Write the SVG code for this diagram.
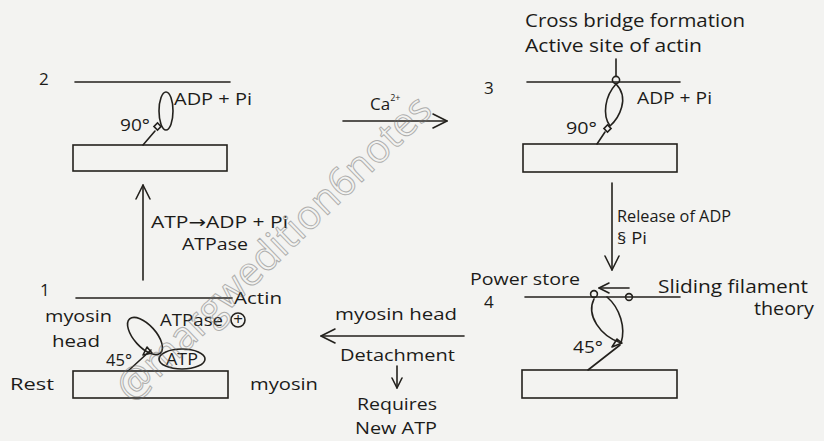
<svg xmlns="http://www.w3.org/2000/svg" width="824" height="441" viewBox="0 0 824 441">
  <style>
    .ln { stroke: #23211d; stroke-width: 1.6; fill: none; stroke-linecap: round; stroke-linejoin: round; }
    .bx { stroke: #23211d; stroke-width: 1.6; fill: none; }
    .t { font-family: "Open Sans", "DejaVu Sans", sans-serif; fill: #1c1b19; font-size: 17px; }
    .tl { font-size: 18px; }
    .ts { font-size: 16px; }
    .wm { font-family: "Open Sans", "DejaVu Sans", sans-serif; font-size: 40px; fill: none; stroke: #6b6b6b; stroke-width: 1; opacity: 0.5; }
  </style>
  <defs>
    <marker id="chev" viewBox="0 0 12 12" refX="11" refY="6" markerWidth="12" markerHeight="12" markerUnits="userSpaceOnUse" orient="auto">
      <path d="M1,1 L11,6 L1,11" fill="none" stroke="#23211d" stroke-width="1.6" stroke-linecap="round" stroke-linejoin="round"/>
    </marker>
    <marker id="chevL" viewBox="0 0 16 16" refX="15" refY="8" markerWidth="16" markerHeight="16" markerUnits="userSpaceOnUse" orient="auto">
      <path d="M1,1 L15,8 L1,15" fill="none" stroke="#23211d" stroke-width="1.6" stroke-linecap="round" stroke-linejoin="round"/>
    </marker>
  </defs>

  <rect width="824" height="441" fill="#f3f3f1"/>

  <!-- Stage 2: cocked head, 90 degrees, ADP + Pi bound -->
  <g id="stage2">
    <text class="t" x="39" y="85">2</text>
    <line class="ln" x1="75" y1="82" x2="230" y2="82"/>
    <ellipse class="ln" cx="166" cy="111" rx="7" ry="19"/>
    <rect class="bx" x="155" y="124" width="5" height="5" transform="rotate(45 157.5 126.5)"/>
    <line class="ln" x1="143" y1="145" x2="155" y2="131"/>
    <rect class="bx" x="73" y="145" width="154" height="26"/>
    <text class="t" x="120" y="131" textLength="30" lengthAdjust="spacingAndGlyphs">90°</text>
    <text class="t" x="174" y="105" textLength="78" lengthAdjust="spacingAndGlyphs">ADP + Pi</text>
  </g>

  <!-- Stage 3: cross bridge attached to active site of actin -->
  <g id="stage3">
    <text class="t" x="484" y="94">3</text>
    <text class="t tl" x="525" y="27" textLength="220" lengthAdjust="spacingAndGlyphs">Cross bridge formation</text>
    <text class="t tl" x="525" y="52" textLength="177" lengthAdjust="spacingAndGlyphs">Active site of actin</text>
    <line class="ln" x1="616" y1="59" x2="616" y2="76"/>
    <line class="ln" x1="527" y1="82" x2="680" y2="82"/>
    <circle class="bx" cx="616" cy="80" r="3.6" fill="#f3f3f1"/>
    <path class="ln" d="M616,84 C605,96 602,115 610,126 C619,118 630,98 616,84 Z"/>
    <rect class="bx" x="605" y="126" width="5" height="5" transform="rotate(45 607.5 128.5)"/>
    <line class="ln" x1="597" y1="144" x2="605" y2="132"/>
    <rect class="bx" x="523" y="144" width="154" height="28"/>
    <text class="t" x="637" y="104" textLength="75" lengthAdjust="spacingAndGlyphs">ADP + Pi</text>
    <text class="t" x="566" y="134" textLength="31" lengthAdjust="spacingAndGlyphs">90°</text>
  </g>

  <!-- Stage 4: power stroke, head tilts to 45 degrees -->
  <g id="stage4">
    <text class="t" x="470" y="285" textLength="110" lengthAdjust="spacingAndGlyphs">Power store</text>
    <text class="t" x="484" y="308" font-size="15">4</text>
    <line class="ln" x1="525" y1="297" x2="680" y2="297"/>
    <path class="ln" d="M594,299 C586,315 600,336 621,343 C626,328 620,308 607,297"/>
    <circle class="bx" cx="594" cy="294" r="3.4" fill="#f3f3f1"/>
    <circle class="bx" cx="629" cy="297" r="3.4" fill="#f3f3f1"/>
    <path class="ln" d="M612,347 L617,339 L622,343 Z"/>
    <line class="ln" x1="620" y1="345" x2="588" y2="370"/>
    <rect class="bx" x="522" y="370" width="155" height="28"/>
    <text class="t" x="573" y="353" textLength="30" lengthAdjust="spacingAndGlyphs">45°</text>
    <text class="t tl" x="658" y="293" textLength="150" lengthAdjust="spacingAndGlyphs">Sliding filament</text>
    <text class="t tl" x="754" y="315" textLength="60" lengthAdjust="spacingAndGlyphs">theory</text>
  </g>

  <!-- Stage 1: rest, 45 degrees, ATP bound -->
  <g id="stage1">
    <text class="t" x="40" y="296">1</text>
    <line class="ln" x1="76" y1="298" x2="232" y2="298"/>
    <text class="t" x="234" y="304" textLength="48" lengthAdjust="spacingAndGlyphs">Actin</text>
    <text class="t" x="45" y="322" textLength="67" lengthAdjust="spacingAndGlyphs">myosin</text>
    <text class="t" x="52" y="347" textLength="48" lengthAdjust="spacingAndGlyphs">head</text>
    <text class="t" x="160" y="326" textLength="63" lengthAdjust="spacingAndGlyphs">ATPase</text>
    <circle class="bx" cx="238" cy="320" r="7"/>
    <text class="t" x="238" y="325" text-anchor="middle" font-size="14">+</text>
    <ellipse class="ln" cx="145" cy="336" rx="23" ry="11" transform="rotate(48 145 336)"/>
    <path class="ln" d="M143,355 L147,347 L152,353 Z"/>
    <line class="ln" x1="128" y1="371" x2="151" y2="350"/>
    <ellipse class="ln" cx="182" cy="359" rx="23" ry="10"/>
    <text class="t" x="166" y="365" textLength="32" lengthAdjust="spacingAndGlyphs">ATP</text>
    <text class="t" x="106" y="366" textLength="26" lengthAdjust="spacingAndGlyphs">45°</text>
    <rect class="bx" x="73" y="371" width="155" height="27"/>
    <text class="t" x="10" y="390" textLength="44" lengthAdjust="spacingAndGlyphs">Rest</text>
    <text class="t" x="250" y="390" textLength="68" lengthAdjust="spacingAndGlyphs">myosin</text>
  </g>

  <!-- Transitions between stages -->
  <g id="connectors">
    <line class="ln" x1="143" y1="280" x2="143" y2="185" marker-end="url(#chevL)"/>
    <line class="ln" x1="343" y1="121" x2="447" y2="121" marker-end="url(#chevL)"/>
    <line class="ln" x1="612" y1="183" x2="612" y2="270" marker-end="url(#chevL)"/>
    <line class="ln" x1="629" y1="288" x2="599" y2="288" marker-end="url(#chev)"/>
    <line class="ln" x1="464" y1="336" x2="321" y2="336" marker-end="url(#chevL)"/>
    <line class="ln" x1="397" y1="366" x2="397" y2="388" marker-end="url(#chev)"/>
  </g>

  <!-- Transition labels -->
  <g id="labels">
    <text class="t" x="370" y="110" font-size="18">Ca<tspan font-size="9" dy="-9">2+</tspan></text>
    <text class="t" x="151" y="228" textLength="137" lengthAdjust="spacingAndGlyphs">ATP→ADP + Pi</text>
    <text class="t" x="182" y="250" textLength="66" lengthAdjust="spacingAndGlyphs">ATPase</text>
    <text class="t" x="617" y="222" textLength="114" lengthAdjust="spacingAndGlyphs">Release of ADP</text>
    <text class="t" x="617" y="244" textLength="30" lengthAdjust="spacingAndGlyphs">§ Pi</text>
    <text class="t" x="335" y="320" textLength="122" lengthAdjust="spacingAndGlyphs">myosin head</text>
    <text class="t" x="340" y="361" textLength="115" lengthAdjust="spacingAndGlyphs">Detachment</text>
    <text class="t ts" x="357" y="410" textLength="80" lengthAdjust="spacingAndGlyphs">Requires</text>
    <text class="t ts" x="355" y="434" textLength="82" lengthAdjust="spacingAndGlyphs">New ATP</text>
  </g>

  <!-- Outlined handle lettering across the middle -->
  <text class="wm" transform="translate(132,404) rotate(-44)" textLength="420" lengthAdjust="spacingAndGlyphs">@margwedition6notes</text>
</svg>
